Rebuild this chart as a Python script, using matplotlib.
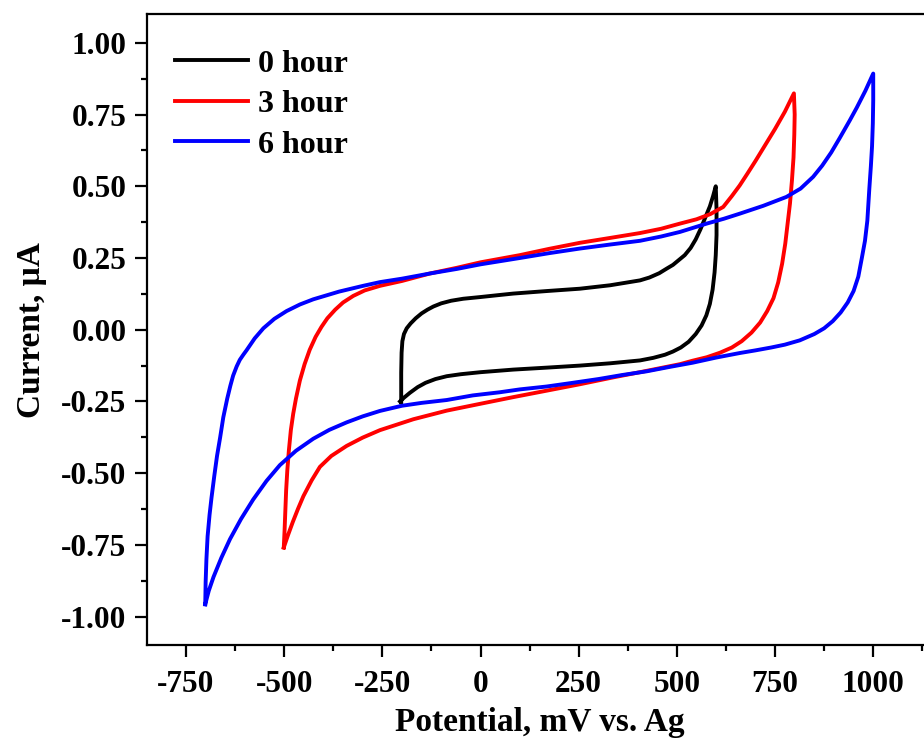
import numpy as np
import matplotlib.pyplot as plt

plt.rcParams['font.family'] = ['Liberation Serif', 'DejaVu Serif']
plt.rcParams['font.weight'] = 'bold'
plt.rcParams['axes.unicode_minus'] = False

# 0 hour scan: -200 -> 600 mV and back
E_0h = [-202, -202, -201, -199, -195, -188, -178, -165, -150, -135, -120, -100, -75,
        -44, 0, 41, 83, 170, 253, 330, 406, 430, 455, 474, 490, 505, 520, 535, 548,
        560, 572, 584, 592, 599,
        601, 601, 599, 596, 591, 584, 575, 563, 548, 530, 510, 490, 470, 440, 406,
        330, 253, 170, 83, 0, -50, -86, -115, -140, -160, -180, -195, -205]
I_0h = [-0.253, -0.15, -0.08, -0.04, -0.015, 0.005, 0.022, 0.040, 0.057, 0.070, 0.081,
        0.092, 0.101, 0.108, 0.114, 0.120, 0.126, 0.135, 0.143, 0.155, 0.172, 0.182,
        0.197, 0.213, 0.226, 0.243, 0.260, 0.285, 0.315, 0.35, 0.39, 0.43, 0.465, 0.50,
        0.42, 0.33, 0.26, 0.20, 0.14, 0.09, 0.05, 0.015, -0.015, -0.042, -0.062, -0.076,
        -0.087, -0.098, -0.107, -0.117, -0.125, -0.132, -0.139, -0.148, -0.155, -0.162,
        -0.172, -0.185, -0.200, -0.220, -0.237, -0.250]

# 3 hour scan: -500 -> 800 mV and back
E_3h = [-501, -499, -497, -495, -492, -488, -483, -477, -470, -460, -448, -435, -420,
        -405, -390, -370, -350, -324, -295, -256, -200, -129, -60, 0, 100, 175, 253,
        330, 406, 460, 508, 550, 585, 618, 640, 660, 680, 700, 725, 750, 775, 798,
        800, 799, 797, 793, 788, 782, 776, 768, 758, 746, 730, 712, 690, 665, 640, 610,
        576, 540, 508, 406, 338, 253, 170, 83, 0, -86, -171, -256, -300, -341, -380,
        -409, -430, -451, -465, -478, -490, -501]
I_3h = [-0.759, -0.70, -0.63, -0.56, -0.49, -0.42, -0.35, -0.293, -0.24, -0.177, -0.12,
        -0.07, -0.025, 0.010, 0.040, 0.070, 0.095, 0.118, 0.137, 0.153, 0.170, 0.196,
        0.216, 0.235, 0.26, 0.282, 0.303, 0.320, 0.337, 0.352, 0.37, 0.385, 0.403,
        0.428, 0.466, 0.503, 0.545, 0.588, 0.644, 0.700, 0.760, 0.824,
        0.75, 0.68, 0.60, 0.52, 0.44, 0.37, 0.30, 0.23, 0.165, 0.11, 0.065, 0.025,
        -0.010, -0.040, -0.062, -0.080, -0.096, -0.108, -0.12, -0.148, -0.166, -0.19,
        -0.212, -0.235, -0.258, -0.282, -0.312, -0.350, -0.376, -0.405, -0.440, -0.478,
        -0.525, -0.580, -0.625, -0.670, -0.715, -0.759]

# 6 hour scan: -700 -> 1000 mV and back
E_6h = [-701, -700, -698, -695, -690, -685, -678, -671, -663, -655, -645, -637, -630,
        -621, -613, -604, -596, -575, -553, -525, -494, -460, -426, -360, -299, -256,
        -200, -129, -60, 0, 100, 175, 253, 330, 406, 460, 508, 576, 620, 661, 720, 779,
        815, 847, 870, 893, 915, 940, 958, 980, 1000,
        1000, 999, 997, 994, 990, 985, 979, 971, 962, 950, 935, 917, 897, 875, 850, 813,
        775, 740, 700, 661, 600, 540, 480, 423, 360, 300, 230, 168, 100, 49, -20, -86,
        -150, -200, -256, -300, -341, -385, -426, -470, -511, -545, -579, -610, -638,
        -660, -680, -692, -701]
I_6h = [-0.957, -0.88, -0.80, -0.72, -0.645, -0.585, -0.51, -0.44, -0.375, -0.305,
        -0.240, -0.195, -0.160, -0.128, -0.105, -0.087, -0.072, -0.030, 0.005, 0.038,
        0.065, 0.088, 0.106, 0.133, 0.153, 0.166, 0.178, 0.196, 0.212, 0.228, 0.25,
        0.267, 0.283, 0.297, 0.31, 0.325, 0.341, 0.370, 0.387, 0.405, 0.432, 0.463,
        0.492, 0.533, 0.572, 0.618, 0.669, 0.729, 0.774, 0.833, 0.893,
        0.80, 0.72, 0.64, 0.57, 0.49, 0.38, 0.31, 0.25, 0.185, 0.135, 0.095, 0.060,
        0.030, 0.005, -0.015, -0.037, -0.052, -0.062, -0.072, -0.081, -0.097, -0.115,
        -0.130, -0.145, -0.158, -0.172, -0.186, -0.198, -0.208, -0.218, -0.229,
        -0.245, -0.255, -0.265, -0.283, -0.302, -0.323, -0.349, -0.380, -0.422,
        -0.472, -0.527, -0.592, -0.660, -0.730, -0.795, -0.862, -0.910, -0.957]

labels = ['0 hour', '3 hour', '6 hour']

fig = plt.figure(figsize=(9.24, 7.46), dpi=100)
ax = fig.add_axes([0.1588, 0.135, 0.85, 0.846])

ax.plot(E_0h, I_0h, color='black', linewidth=2.8, label=labels[0])
ax.plot(E_3h, I_3h, color='red', linewidth=2.8, label=labels[1])
ax.plot(E_6h, I_6h, color='blue', linewidth=2.8, label=labels[2])

ax.set_xticks(np.arange(-750, 1001, 250))
ax.set_xticks(np.arange(-625, 1150, 250), minor=True)
ax.set_yticks(np.arange(-1.0, 1.01, 0.25))
ax.set_yticks(np.arange(-0.875, 1.0, 0.25), minor=True)
ax.set_yticklabels(['%.2f' % v for v in np.arange(-1.0, 1.01, 0.25)])
# limits after the ticks so the tick lists don't widen the view
ax.set_xlim(-850, 1150)
ax.set_ylim(-1.1, 1.1)

ax.tick_params(which='major', direction='out', length=8.5, width=1.6,
               labelsize=22.5, pad=6)
ax.tick_params(which='minor', direction='out', length=4.5, width=1.6)
ax.tick_params(axis='x', pad=9)
for s in ax.spines.values():
    s.set_linewidth(1.6)

ax.set_xlabel('Potential, mV vs. Ag', fontsize=24, fontweight='bold', labelpad=6)
ax.set_ylabel('Current, μA', fontsize=24, fontweight='bold', labelpad=10)

ax.legend(loc='upper left', bbox_to_anchor=(0.0, 0.99), frameon=False,
          prop={'size': 23, 'weight': 'bold'}, handlelength=2.28,
          handletextpad=0.3, labelspacing=0.35, borderaxespad=0.5)

fig.savefig('out.png', dpi=100)
